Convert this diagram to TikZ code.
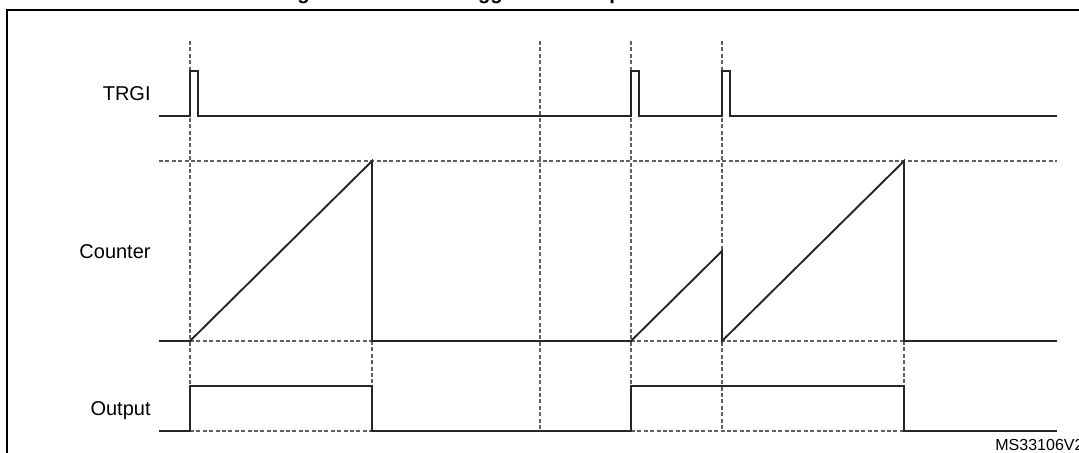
\documentclass[tikz,border=0pt]{standalone}
\usepackage{fontspec}
\setmainfont{Liberation Sans}
\begin{document}
\begin{tikzpicture}[x=0.5pt,y=-0.5pt,
  sig/.style={line width=0.95pt,color=black!85},
  guide/.style={line width=0.8pt,color=black!62,dash pattern=on 2pt off 1.2pt},
  lab/.style={anchor=base east,font=\fontsize{10}{12}\selectfont,inner sep=0pt},
  ttl/.style={anchor=base west,font=\bfseries\fontsize{10.1}{12}\selectfont,inner sep=0pt},
  frameline/.style={line width=1pt,color=black}]
\useasboundingbox (0,0) rectangle (1079,452);
\begin{scope}
  \clip (0,0) rectangle (1079,452);
  \node[ttl] (titlenum) at (279,-1) {Figure 190.};
  \node[ttl] (title) at (431.6,-1) {Retriggerable one pulse mode};
  \draw[frameline] (1090,10) -- (7,10) -- (7,470);
  \node[anchor=base west,font=\fontsize{8}{10}\selectfont,inner sep=0pt] (ref) at (995,450) {MS33106V2};
\end{scope}
% labels
\node[lab] (trgi) at (151,100) {TRGI};
\node[lab] (counter) at (151,258) {Counter};
\node[lab] (output) at (151,415) {Output};
% guides
\draw[guide] (190,41) -- (190,431);
\draw[guide] (540,41) -- (540,431);
\draw[guide] (631,41) -- (631,431);
\draw[guide] (722,41) -- (722,431);
\draw[guide] (372,341) -- (372,386);
\draw[guide] (904,341) -- (904,386);
\draw[guide] (159,161) -- (1057,161);
\draw[guide] (190,341) -- (372,341);
\draw[guide] (631,341) -- (904,341);
\draw[guide] (190,431) -- (372,431);
\draw[guide] (631,431) -- (904,431);
% TRGI
\draw[sig] (159,116) -- (190,116) -- (190,71) -- (198,71) -- (198,116) -- (631,116) -- (631,71) -- (639,71) -- (639,116) -- (722,116) -- (722,71) -- (730,71) -- (730,116) -- (1057,116);
% Counter
\draw[sig] (159,341) -- (190,341) -- (372,161) -- (372,341) -- (631,341) -- (722,251) -- (722,341) -- (904,161) -- (904,341) -- (1057,341);
% Output
\draw[sig] (159,431) -- (190,431) -- (190,386) -- (372,386) -- (372,431) -- (631,431) -- (631,386) -- (904,386) -- (904,431) -- (1057,431);
\end{tikzpicture}
\end{document}
